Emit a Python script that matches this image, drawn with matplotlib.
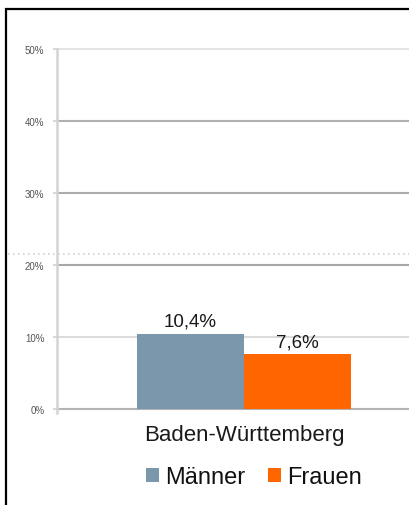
import matplotlib
matplotlib.use("Agg")
import matplotlib.pyplot as plt
from matplotlib.patches import Rectangle
from matplotlib.lines import Line2D

plt.rcParams['font.family'] = ['Liberation Sans', 'DejaVu Sans']

# data
region = "Baden-Württemberg"
series = ["Männer", "Frauen"]
values = [10.4, 7.6]
value_labels = ["10,4%", "7,6%"]
colors = ["#7a97ab", "#ff6600"]
yticks = [0, 10, 20, 30, 40, 50]
ytick_labels = ["0%", "10%", "20%", "30%", "40%", "50%"]
grid_colors = ["#b4b4b4", "#dcdcdc", "#a8a8a8", "#acacac", "#b0b0b0", "#e4e4e4"]

W, H = 409, 506
fig = plt.figure(figsize=(W / 100, H / 100), dpi=100)

# axes area in pixel terms
ax_left, ax_right, ax_top, ax_bottom = 57, 409, 50, 410
ax = fig.add_axes([ax_left / W, 1 - ax_bottom / H,
                   (ax_right - ax_left) / W, (ax_bottom - ax_top) / H])

bar_w = 0.5
xs = [-bar_w / 2, bar_w / 2]
for x, v, c, lab, name in zip(xs, values, colors, value_labels, series):
    ax.bar(x, v, width=bar_w, color=c, label=name, zorder=3)
    ax.annotate(lab, (x, v), xytext=(0, 3), textcoords="offset points",
                ha="center", va="bottom", fontsize=13.5, color="#1a1a1a")

ax.set_xlim(-0.874, 0.771)
ax.set_ylim(0, 50)

for y, gc in zip(yticks, grid_colors):
    ax.axhline(y, color=gc, lw=1.5, zorder=1, clip_on=False)

ax.set_yticks(yticks)
ax.set_yticklabels(ytick_labels, fontsize=7, color="#555555")
ax.tick_params(axis="y", length=3, width=1.2, color="#d0d0d0", pad=6)
ax.set_xticks([0])
ax.set_xticklabels([region], fontsize=16, color="#1a1a1a")
ax.tick_params(axis="x", length=0, pad=11)

for s in ["top", "right", "bottom"]:
    ax.spines[s].set_visible(False)
ax.spines["left"].set_color("#d4d4d4")
ax.spines["left"].set_linewidth(1.8)
ax.spines["left"].set_bounds(-0.5, 50)

# dotted marker line across the panel
fig.add_artist(Line2D([8 / W, 1], [1 - 255 / H] * 2, color="#d0d0d0",
                      lw=1.2, ls=(0, (1, 2)), transform=fig.transFigure))

# outer black frame
fig.add_artist(Rectangle((6 / W, -0.1), 1.2, 1 - 10 / H + 0.1, fill=False,
                         edgecolor="black", lw=1.6, transform=fig.transFigure))

fig.legend(loc="center", bbox_to_anchor=(254 / W, 1 - 478 / H), ncol=2,
           frameon=False, fontsize=17, handlelength=0.55, handleheight=0.55,
           handletextpad=0.25, columnspacing=1.0, borderaxespad=0,
           labelcolor="#111111")

fig.savefig("out.png", dpi=100)
